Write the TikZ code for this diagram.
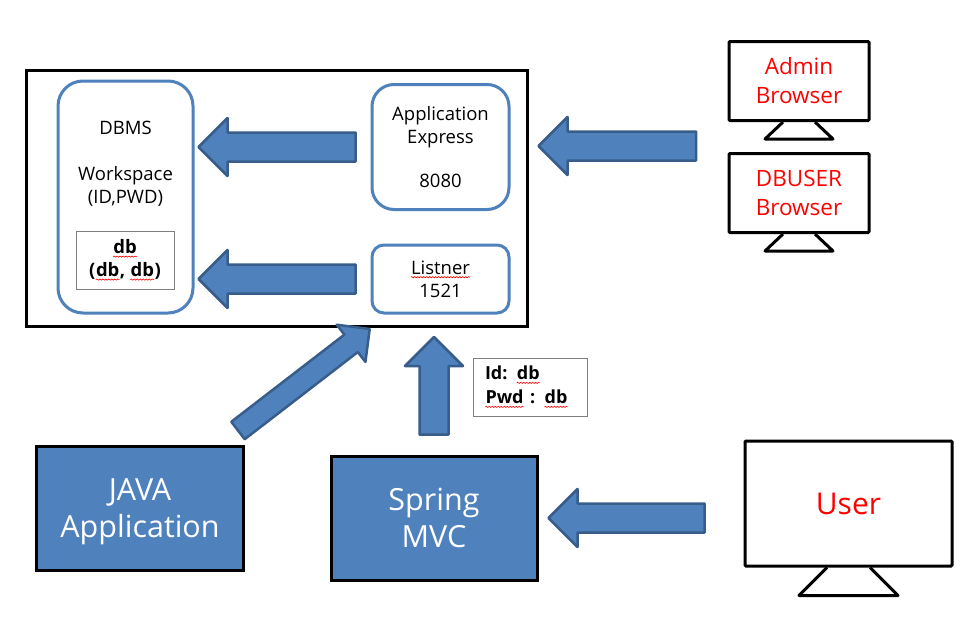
\documentclass[tikz,border=0pt]{standalone}
\usepackage{fontspec}
\setmainfont{Open Sans}
\usetikzlibrary{calc,decorations.pathmorphing}
\definecolor{shapeblue}{HTML}{4F81BD}
\definecolor{shapeedge}{HTML}{385D8A}
\definecolor{graybox}{HTML}{7F7F7F}
\newcommand{\wavy}[1]{\tikz[baseline=(w.base)]{\node[inner sep=0pt,minimum width=0pt,minimum height=0pt,text width=,rounded corners=0pt] (w) {#1};
  \draw[red,sharp corners,line width=.6pt,decorate,decoration={snake,amplitude=.6pt,segment length=3pt}]
    ([yshift=-3pt]w.base west) -- ([yshift=-3pt]w.base east);}}
\tikzset{
  server/.style={draw=shapeblue,line width=3pt,rounded corners=#1,fill=white,inner sep=0pt,align=center,font=\fontsize{18.5}{23}\selectfont},
  textbox/.style={draw=graybox,line width=1pt,inner sep=0pt,align=center,font=\fontsize{18.5}{23}\selectfont\bfseries},
  client/.style={draw,line width=3pt,rounded corners=1pt,inner sep=0pt,align=center,text=red},
  stand/.style={draw,line width=3pt,line join=round},
  program/.style={draw,line width=3pt,fill=shapeblue,text=white,inner sep=0pt,align=center,font=\fontsize{30.5}{37}\selectfont},
  blockarrow/.style n args={3}{draw=shapeedge,line width=2.5pt,line join=round,fill=shapeblue,
    to path={
      ($(\tikztostart)!#3!90:(\tikztotarget)$)
      -- ($($(\tikztotarget)!#1!(\tikztostart)$)!#3!90:(\tikztotarget)$)
      -- ($($(\tikztotarget)!#1!(\tikztostart)$)!#2!90:(\tikztotarget)$)
      -- (\tikztotarget)
      -- ($($(\tikztotarget)!#1!(\tikztostart)$)!#2!-90:(\tikztotarget)$)
      -- ($($(\tikztotarget)!#1!(\tikztostart)$)!#3!-90:(\tikztotarget)$)
      -- ($(\tikztostart)!#3!-90:(\tikztotarget)$)
      -- cycle}},
  blockarrow/.default={29pt}{29pt}{14.5pt}
}
\begin{document}
\begin{tikzpicture}[x=1pt,y=-1pt]
  \useasboundingbox (0,0) rectangle (977,629);
  \node[draw,line width=3pt,minimum width=501pt,minimum height=256pt] (db) at (276.5,198) {};
  % inside the database box
  \node[server=25pt,minimum width=135pt,minimum height=232pt] (dbms) at (125.5,197) {};
  \node[font=\fontsize{18.5}{23}\selectfont,align=center] (dbmstext) at (125.5,128) {DBMS};
  \node[font=\fontsize{18.5}{23}\selectfont,align=center] (workspace) at (125.5,186) {Workspace\\(ID,PWD)};
  \node[textbox,minimum width=98pt,minimum height=58pt] (account) at (125,260) {\wavy{db}\\(\wavy{db}, \wavy{db})};
  \node[server=22pt,minimum width=137pt,minimum height=125pt] (express) at (440.5,147) {Application\\Express\\[21pt]8080};
  \node[server=12pt,minimum width=137pt,minimum height=68pt] (listner) at (440.5,279) {\wavy{Listner}\\1521};
  % clients
  \node[client,minimum width=140pt,minimum height=79pt,font=\fontsize{22.5}{29}\selectfont] (admin) at (799,81) {Admin\\Browser};
  \node[client,minimum width=140pt,minimum height=79pt,font=\fontsize{22.5}{29}\selectfont] (dbuser) at (799,193) {DBUSER\\Browser};
  \node[client,minimum width=207pt,minimum height=125pt,font=\fontsize{30}{36}\selectfont] (user) at (848.5,503.5) {User};
  \draw[stand] ([xshift=-16pt]admin.south) -- ++(-18,17) -- ++(68,0) -- ++(-18,-17);
  \draw[stand] ([xshift=-16pt]dbuser.south) -- ++(-18,17) -- ++(68,0) -- ++(-18,-17);
  \draw[stand] ([xshift=-21.5pt]user.south) -- ++(-28,28) -- ++(99,0) -- ++(-28,-28);
  % programs
  \node[program,minimum width=207pt,minimum height=124pt,text depth=0pt] (java) at (140,508) {JAVA\\Application};
  \node[program,minimum width=206pt,minimum height=124pt] (spring) at (434,518) {Spring\\MVC};
  \node[textbox,minimum width=114pt,minimum height=58pt,align=left,text width=90pt,font=\fontsize{18}{24}\selectfont\bfseries] (login) at (530,387) {Id: \wavy{db}\\\wavy{Pwd} : \wavy{db}};
  % block arrows
  \coordinate (expressout) at ([xshift=-15pt]express.west);
  \coordinate (dbmsin) at ([xshift=4pt]dbms.east |- express.west);
  \coordinate (listnerout) at ([xshift=-15pt]listner.west);
  \coordinate (accountin) at ([xshift=4pt]dbms.east |- listner.west);
  \coordinate (adminout) at (696,146);
  \coordinate (dbin) at ([xshift=10pt]db.east |- adminout);
  \coordinate (userout) at ([xshift=-39pt]user.west |- spring.east);
  \coordinate (springin) at ([xshift=10pt]spring.east);
  \coordinate (springout) at ([yshift=20pt]spring.north);
  \coordinate (dbup) at (spring.north |- 0,337);
  \coordinate (javaout) at (238,430.5);
  \coordinate (dbdiag) at (369.7,329);
  \draw[blockarrow] (expressout) to (dbmsin);
  \draw[blockarrow] (listnerout) to (accountin);
  \draw[blockarrow] (adminout) to (dbin);
  \draw[blockarrow] (userout) to (springin);
  \draw[blockarrow] (springout) to (dbup);
  \draw[blockarrow={23.5pt}{23.5pt}{11pt}] (javaout) to (dbdiag);
\end{tikzpicture}
\end{document}
